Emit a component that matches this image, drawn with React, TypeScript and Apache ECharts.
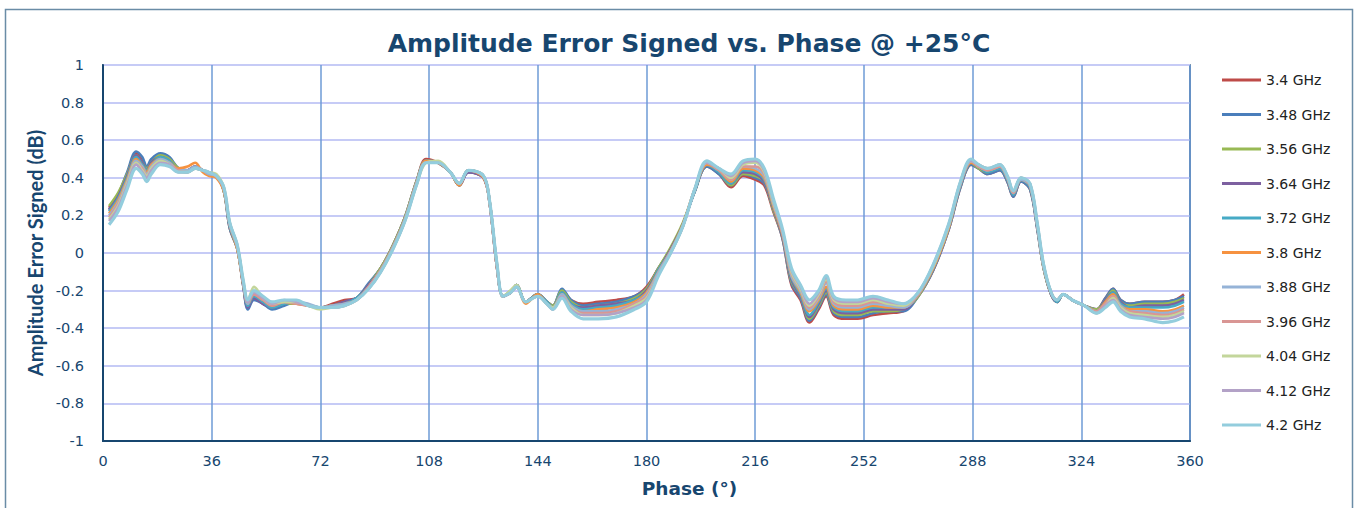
import React, { useEffect, useRef } from "react";
import * as echarts from "echarts";

const phase = [
  2, 5, 8, 11, 13, 14.5, 16, 19, 22, 25,
  28, 30.5, 33, 35, 37.5, 40, 42, 44.5, 46.5, 48,
  50, 53, 56, 60, 64, 68, 72, 76, 80, 84,
  88, 92, 96, 100, 104, 107, 111, 115, 118, 121,
  126, 128, 130.5, 132.5, 135, 137, 140, 144, 147, 149,
  152, 155, 159, 164, 170, 176, 180, 184, 188, 192,
  196, 200, 204, 208, 212, 216, 219, 222, 225, 228,
  231, 234, 237, 239.5, 242, 246, 250, 255, 260, 265,
  270, 275, 280, 284, 287.5, 290, 293, 297, 299.5, 301.5,
  304, 307, 309.5, 311.5, 314, 316, 318, 321, 325, 329,
  332, 334.5, 337, 340, 345, 351, 355, 358,
];

const f3_40 = [
  .24, .31, .42, .53, .49, .45, .49, .52, .50, .45,
  .44, .46, .44, .42, .41, .33, .13, .02, -.18, -.29,
  -.24, -.27, -.29, -.27, -.26, -.28, -.29, -.27, -.25, -.24,
  -.17, -.08, .04, .19, .39, .50, .48, .43, .36, .43,
  .40, .27, -.08, -.23, -.21, -.17, -.26, -.22, -.26, -.28,
  -.20, -.25, -.27, -.26, -.25, -.23, -.18, -.08, .02, .15,
  .33, .46, .42, .35, .41, .39, .36, .22, .08, -.17,
  -.25, -.37, -.30, -.23, -.33, -.35, -.35, -.33, -.32, -.31,
  -.23, -.09, .12, .35, .47, .45, .42, .44, .38, .30,
  .38, .34, .12, -.08, -.22, -.26, -.22, -.25, -.28, -.30,
  -.24, -.19, -.25, -.27, -.26, -.26, -.25, -.22,
];
const f3_48 = [
  .23, .31, .43, .54, .51, .46, .50, .53, .51, .45,
  .44, .46, .44, .42, .41, .33, .13, .02, -.18, -.30,
  -.25, -.27, -.30, -.28, -.26, -.28, -.29, -.28, -.26, -.24,
  -.16, -.08, .04, .19, .39, .49, .48, .43, .36, .43,
  .40, .27, -.08, -.23, -.21, -.17, -.26, -.22, -.26, -.28,
  -.19, -.25, -.28, -.27, -.26, -.23, -.19, -.08, .02, .15,
  .33, .46, .42, .36, .42, .40, .37, .23, .08, -.16,
  -.24, -.36, -.29, -.22, -.32, -.34, -.34, -.32, -.31, -.31,
  -.23, -.09, .12, .35, .47, .45, .42, .44, .38, .30,
  .38, .34, .12, -.08, -.22, -.26, -.22, -.25, -.28, -.30,
  -.24, -.19, -.25, -.27, -.26, -.26, -.25, -.23,
];
const f3_56 = [
  .25, .32, .42, .52, .48, .45, .48, .52, .50, .45,
  .43, .45, .44, .42, .41, .33, .14, .02, -.17, -.28,
  -.21, -.26, -.29, -.27, -.27, -.28, -.29, -.28, -.27, -.24,
  -.17, -.08, .04, .19, .39, .49, .48, .43, .36, .44,
  .41, .28, -.07, -.23, -.20, -.17, -.26, -.22, -.26, -.28,
  -.20, -.26, -.29, -.28, -.27, -.24, -.19, -.08, .03, .16,
  .33, .47, .43, .36, .42, .41, .38, .23, .09, -.15,
  -.23, -.35, -.28, -.21, -.31, -.33, -.33, -.31, -.31, -.30,
  -.23, -.08, .13, .36, .48, .45, .43, .45, .39, .31,
  .39, .35, .13, -.08, -.22, -.26, -.22, -.25, -.28, -.30,
  -.25, -.20, -.26, -.28, -.27, -.27, -.26, -.24,
];
const f3_64 = [
  .23, .30, .41, .52, .48, .44, .48, .51, .49, .44,
  .44, .46, .44, .42, .41, .34, .14, .03, -.17, -.29,
  -.24, -.27, -.29, -.27, -.26, -.28, -.29, -.28, -.26, -.24,
  -.17, -.09, .03, .18, .38, .49, .48, .43, .36, .43,
  .40, .27, -.08, -.23, -.21, -.17, -.26, -.22, -.26, -.29,
  -.21, -.27, -.29, -.28, -.27, -.25, -.20, -.09, .02, .15,
  .33, .47, .43, .37, .43, .42, .38, .24, .09, -.14,
  -.23, -.34, -.27, -.20, -.30, -.32, -.32, -.30, -.30, -.30,
  -.22, -.08, .13, .36, .48, .46, .43, .45, .39, .31,
  .39, .35, .13, -.07, -.22, -.26, -.22, -.25, -.28, -.31,
  -.25, -.21, -.26, -.29, -.28, -.28, -.27, -.25,
];
const f3_72 = [
  .22, .29, .40, .51, .47, .44, .47, .51, .49, .44,
  .43, .45, .44, .42, .41, .34, .14, .03, -.17, -.28,
  -.23, -.26, -.29, -.27, -.26, -.28, -.29, -.28, -.27, -.24,
  -.18, -.09, .03, .18, .38, .49, .48, .43, .37, .44,
  .41, .28, -.07, -.23, -.21, -.17, -.26, -.22, -.26, -.29,
  -.21, -.27, -.30, -.29, -.28, -.25, -.21, -.09, .01, .15,
  .33, .47, .43, .37, .44, .43, .39, .25, .10, -.13,
  -.22, -.33, -.26, -.19, -.29, -.31, -.31, -.29, -.29, -.29,
  -.22, -.08, .13, .36, .48, .46, .43, .45, .39, .31,
  .39, .35, .13, -.07, -.21, -.26, -.22, -.25, -.28, -.31,
  -.26, -.21, -.27, -.29, -.29, -.29, -.28, -.26,
];
const f3_80 = [
  .21, .28, .39, .50, .46, .43, .47, .50, .48, .45,
  .46, .48, .43, .41, .40, .33, .15, .02, -.17, -.27,
  -.22, -.25, -.28, -.26, -.27, -.28, -.29, -.28, -.27, -.25,
  -.18, -.09, .03, .18, .38, .49, .48, .43, .36, .44,
  .40, .27, -.08, -.23, -.21, -.18, -.27, -.22, -.27, -.29,
  -.22, -.28, -.31, -.30, -.29, -.26, -.21, -.10, .01, .15,
  .34, .47, .44, .38, .45, .44, .40, .25, .10, -.12,
  -.21, -.31, -.25, -.18, -.28, -.30, -.30, -.28, -.29, -.29,
  -.22, -.08, .13, .37, .48, .46, .44, .46, .40, .32,
  .39, .36, .14, -.07, -.21, -.25, -.22, -.25, -.28, -.31,
  -.26, -.22, -.28, -.30, -.30, -.31, -.30, -.28,
];
const f3_88 = [
  .20, .27, .38, .49, .46, .42, .46, .50, .48, .44,
  .44, .46, .44, .42, .41, .34, .15, .03, -.16, -.27,
  -.21, -.24, -.27, -.26, -.26, -.27, -.29, -.28, -.27, -.25,
  -.18, -.09, .03, .18, .38, .48, .48, .43, .37, .44,
  .41, .28, -.07, -.23, -.21, -.18, -.26, -.23, -.27, -.29,
  -.22, -.28, -.31, -.31, -.30, -.27, -.22, -.10, .01, .14,
  .34, .48, .44, .39, .46, .45, .41, .26, .11, -.12,
  -.20, -.30, -.24, -.16, -.27, -.29, -.29, -.27, -.28, -.29,
  -.22, -.07, .14, .37, .49, .46, .44, .46, .40, .32,
  .39, .36, .14, -.07, -.21, -.25, -.22, -.25, -.28, -.31,
  -.27, -.23, -.28, -.31, -.31, -.32, -.31, -.29,
];
const f3_96 = [
  .19, .26, .37, .48, .45, .41, .45, .49, .47, .44,
  .43, .45, .44, .43, .41, .34, .15, .03, -.16, -.26,
  -.22, -.25, -.28, -.26, -.27, -.28, -.29, -.29, -.28, -.25,
  -.18, -.09, .03, .18, .38, .48, .48, .43, .37, .44,
  .41, .28, -.07, -.23, -.21, -.18, -.26, -.23, -.27, -.30,
  -.23, -.29, -.32, -.32, -.31, -.27, -.23, -.11, .01, .14,
  .34, .48, .44, .39, .46, .46, .42, .27, .11, -.11,
  -.19, -.29, -.23, -.15, -.26, -.28, -.28, -.26, -.27, -.28,
  -.22, -.07, .14, .37, .49, .46, .44, .46, .40, .32,
  .40, .36, .14, -.07, -.21, -.25, -.22, -.25, -.28, -.31,
  -.27, -.23, -.29, -.31, -.32, -.33, -.32, -.30,
];
const f4_04 = [
  .18, .25, .37, .48, .44, .41, .45, .49, .47, .43,
  .43, .45, .44, .43, .42, .35, .16, .04, -.15, -.25,
  -.18, -.24, -.27, -.26, -.26, -.28, -.30, -.29, -.28, -.25,
  -.19, -.10, .02, .17, .37, .48, .49, .43, .37, .44,
  .41, .28, -.06, -.23, -.20, -.17, -.26, -.23, -.27, -.29,
  -.23, -.29, -.33, -.33, -.32, -.28, -.24, -.11, .00, .14,
  .34, .48, .45, .40, .47, .48, .43, .27, .12, -.10,
  -.19, -.28, -.22, -.14, -.25, -.27, -.27, -.25, -.27, -.28,
  -.21, -.07, .14, .38, .49, .47, .45, .47, .41, .33,
  .40, .37, .15, -.06, -.21, -.25, -.22, -.25, -.28, -.32,
  -.28, -.24, -.29, -.32, -.33, -.34, -.33, -.31,
];
const f4_12 = [
  .17, .24, .36, .47, .43, .40, .44, .48, .47, .43,
  .43, .45, .44, .43, .41, .35, .16, .04, -.16, -.26,
  -.21, -.24, -.27, -.25, -.26, -.28, -.29, -.29, -.28, -.25,
  -.19, -.10, .02, .17, .37, .48, .48, .43, .37, .44,
  .41, .28, -.06, -.23, -.21, -.18, -.26, -.23, -.27, -.30,
  -.23, -.30, -.33, -.33, -.32, -.29, -.25, -.11, .00, .14,
  .34, .48, .45, .41, .48, .49, .44, .28, .12, -.09,
  -.18, -.27, -.21, -.13, -.24, -.26, -.26, -.24, -.26, -.27,
  -.21, -.06, .15, .38, .49, .47, .45, .47, .41, .33,
  .40, .37, .15, -.06, -.21, -.25, -.22, -.25, -.28, -.32,
  -.28, -.25, -.30, -.33, -.34, -.35, -.34, -.32,
];
const f4_20 = [
  .15, .22, .34, .45, .42, .38, .42, .47, .46, .43,
  .43, .45, .44, .43, .41, .35, .16, .04, -.15, -.25,
  -.20, -.23, -.26, -.25, -.25, -.28, -.29, -.29, -.28, -.25,
  -.19, -.10, .02, .17, .37, .48, .48, .43, .37, .44,
  .41, .28, -.06, -.23, -.21, -.18, -.26, -.23, -.27, -.30,
  -.24, -.31, -.35, -.35, -.34, -.30, -.26, -.12, .00, .14,
  .34, .49, .45, .42, .49, .50, .45, .29, .13, -.08,
  -.17, -.25, -.20, -.12, -.23, -.25, -.25, -.23, -.25, -.27,
  -.21, -.06, .15, .38, .50, .47, .45, .47, .41, .33,
  .40, .37, .15, -.06, -.21, -.25, -.22, -.25, -.28, -.32,
  -.29, -.26, -.31, -.34, -.35, -.37, -.36, -.34,
];

const seriesNames = [
  "3.4 GHz", "3.48 GHz", "3.56 GHz", "3.64 GHz", "3.72 GHz", "3.8 GHz",
  "3.88 GHz", "3.96 GHz", "4.04 GHz", "4.12 GHz", "4.2 GHz",
];
const seriesValues = [f3_40, f3_48, f3_56, f3_64, f3_72, f3_80, f3_88, f3_96, f4_04, f4_12, f4_20];
const seriesColors = [
  "#BE4B48", "#4A7EBB", "#98B954", "#7D60A0", "#46AAC5", "#F69240",
  "#95B3D7", "#D99694", "#C3D69B", "#B3A2C7", "#93CDDD",
];

const WIDE = "'DejaVu Sans', Verdana, sans-serif";
const NARROW = "Lato, 'Open Sans', sans-serif";
const NAVY = "#17466f";

export default function App() {
  const ref = useRef<HTMLDivElement>(null);
  useEffect(() => {
    if (!ref.current) return;
    const chart = echarts.init(ref.current, undefined, { renderer: "svg" });
    chart.setOption({
      animation: false,
      backgroundColor: "#ffffff",
      textStyle: { fontFamily: WIDE },
      title: {
        text: "Amplitude Error Signed vs. Phase @ +25°C",
        left: 684,
        textAlign: "center",
        top: 26,
        textStyle: { fontFamily: WIDE, fontSize: 25, fontWeight: "bold", color: NAVY },
      },
      graphic: [
        {
          type: "rect",
          shape: { x: 5.5, y: 9.5, width: 1347, height: 520 },
          style: { fill: "none", stroke: "#6a8ca6", lineWidth: 1.5 },
          silent: true,
        },
      ],
      legend: {
        orient: "vertical",
        left: 1217,
        top: 67,
        itemWidth: 39,
        itemHeight: 16,
        itemGap: 18.5,
        icon: "path://M0,0 L39,0 L39,3 L0,3 Z",
        textStyle: { fontFamily: WIDE, fontSize: 14, lineHeight: 16, color: "#222222" },
        data: seriesNames,
      },
      grid: {
        left: 103,
        right: 171,
        top: 65,
        bottom: 67,
        show: true,
        borderColor: NAVY,
        borderWidth: 1.5,
        backgroundColor: "transparent",
      },
      xAxis: {
        type: "value",
        min: 0,
        max: 360,
        interval: 36,
        name: "Phase (°)",
        nameLocation: "middle",
        nameGap: 38,
        nameTextStyle: {
          fontFamily: WIDE,
          fontSize: 18.5,
          fontWeight: "bold",
          color: NAVY,
          padding: [0, 0, 0, 86],
        },
        axisLine: { show: true, onZero: false, lineStyle: { color: NAVY, width: 2 } },
        axisTick: { show: false },
        axisLabel: { fontFamily: WIDE, fontSize: 14.5, color: NAVY, margin: 12 },
        splitLine: { show: true, lineStyle: { color: "#6e9bd6", width: 1.5 } },
      },
      yAxis: {
        type: "value",
        min: -1,
        max: 1,
        interval: 0.2,
        name: "Amplitude Error Signed (dB)",
        nameLocation: "middle",
        nameGap: 57,
        nameTextStyle: { fontFamily: NARROW, fontSize: 20, fontWeight: "bold", color: NAVY },
        axisLine: { show: true, onZero: false, lineStyle: { color: NAVY, width: 2 } },
        axisTick: { show: false },
        axisLabel: {
          fontFamily: WIDE,
          fontSize: 14.5,
          color: NAVY,
          margin: 19,
          formatter: (v: number) => String(Math.round(v * 10) / 10),
        },
        splitLine: { show: true, lineStyle: { color: "#c6cbf6", width: 2 } },
      },
      series: seriesNames.map((name, i) => ({
        name,
        type: "line",
        data: phase.map((p, j) => [p, seriesValues[i][j]]),
        smooth: 0.35,
        symbol: "none",
        color: seriesColors[i],
        lineStyle: { width: i === 10 ? 3.2 : 2.6, color: seriesColors[i] },
      })),
    });
    return () => chart.dispose();
  }, []);
  return (
    <div
      ref={ref}
      style={{ position: "fixed", left: 0, top: 0, width: 1361, height: 508 }}
    />
  );
}
